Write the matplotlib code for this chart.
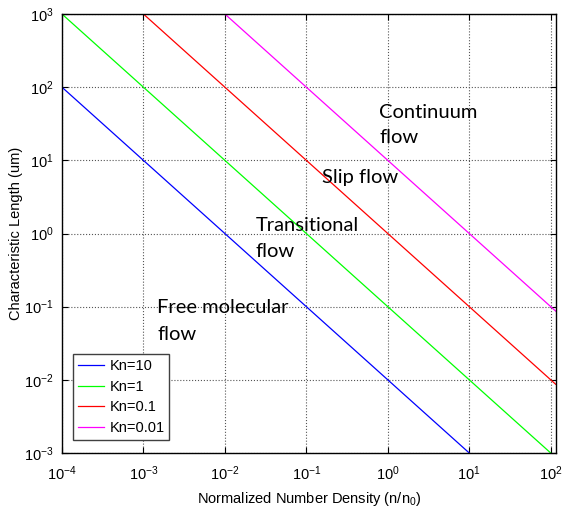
import matplotlib
matplotlib.use("Agg")
import matplotlib.pyplot as plt

# normalized number density (n/n0) and characteristic length (um) per Knudsen number
density = [1e-4, 1e-3, 1e-2, 1e-1, 1e0, 1e1, 1e2, 1.15e2]
kn10 = [1e2, 1e1, 1e0, 1e-1, 1e-2, 1e-3, 1e-4, 8.7e-5]
kn1 = [1e3, 1e2, 1e1, 1e0, 1e-1, 1e-2, 1e-3, 8.7e-4]
kn01 = [1e4, 1e3, 1e2, 1e1, 1e0, 1e-1, 1e-2, 8.7e-3]
kn001 = [1e5, 1e4, 1e3, 1e2, 1e1, 1e0, 1e-1, 8.7e-2]
labels = ["Kn=10", "Kn=1", "Kn=0.1", "Kn=0.01"]
colors = ["#0000ff", "#00ff00", "#ff0000", "#ff00ff"]

# flow regime annotations, one entry per text line (baseline positions in data units)
region_lines = ["Continuum", "flow", "Slip flow", "Transitional", "flow", "Free molecular", "flow"]
region_x = [0.79, 0.79, 0.157, 0.0241, 0.0241, 1.47e-3, 1.47e-3]
region_y = [37.9, 17.3, 4.9, 1.085, 0.478, 0.082, 0.0352]

plt.rcParams['font.family'] = ['Liberation Sans', 'DejaVu Sans']
plt.rcParams['mathtext.fontset'] = 'custom'
plt.rcParams['mathtext.rm'] = 'Liberation Sans'
plt.rcParams['mathtext.it'] = 'Liberation Sans:italic'

fig = plt.figure(figsize=(5.63, 5.09), dpi=100)
ax = fig.add_axes([0.110, 0.110, 0.877, 0.8625])

for ys, lab, c in zip([kn10, kn1, kn01, kn001], labels, colors):
    ax.plot(density, ys, color=c, lw=0.9, label=lab)

ax.set_xscale("log")
ax.set_yscale("log")
ax.set_xlim(1e-4, 1.15e2)
ax.set_ylim(1e-3, 1e3)
ax.set_xticks([1e-4, 1e-3, 1e-2, 1e-1, 1e0, 1e1, 1e2])
ax.set_yticks([1e-3, 1e-2, 1e-1, 1e0, 1e1, 1e2, 1e3])
ax.minorticks_off()
ax.tick_params(direction="in", top=True, right=True, labelsize=10.5, length=4, width=0.8)
ax.tick_params(axis="x", pad=8)
ax.tick_params(axis="y", pad=6)
ax.grid(True, which="major", linestyle=":", color="#555555", lw=0.8)
for s in ax.spines.values():
    s.set_linewidth(1.0)

ax.set_xlabel("Normalized Number Density (n/n$_0$)", fontsize=10.5, labelpad=5)
ax.set_ylabel("Characteristic Length (um)", fontsize=10.5, labelpad=1)

for t, x, y in zip(region_lines, region_x, region_y):
    ax.text(x, y, t, family=["Lato", "DejaVu Sans"], fontsize=14.5, ha="left", va="baseline")

leg = ax.legend(loc="lower left", bbox_to_anchor=(0.022, 0.03), fontsize=10.5,
                fancybox=False, edgecolor="#404040", framealpha=1, handlelength=1.8,
                handletextpad=0.35, borderpad=0.35, borderaxespad=0, labelspacing=0.45)
leg.get_frame().set_linewidth(1.0)

fig.savefig("out.png", dpi=100)
